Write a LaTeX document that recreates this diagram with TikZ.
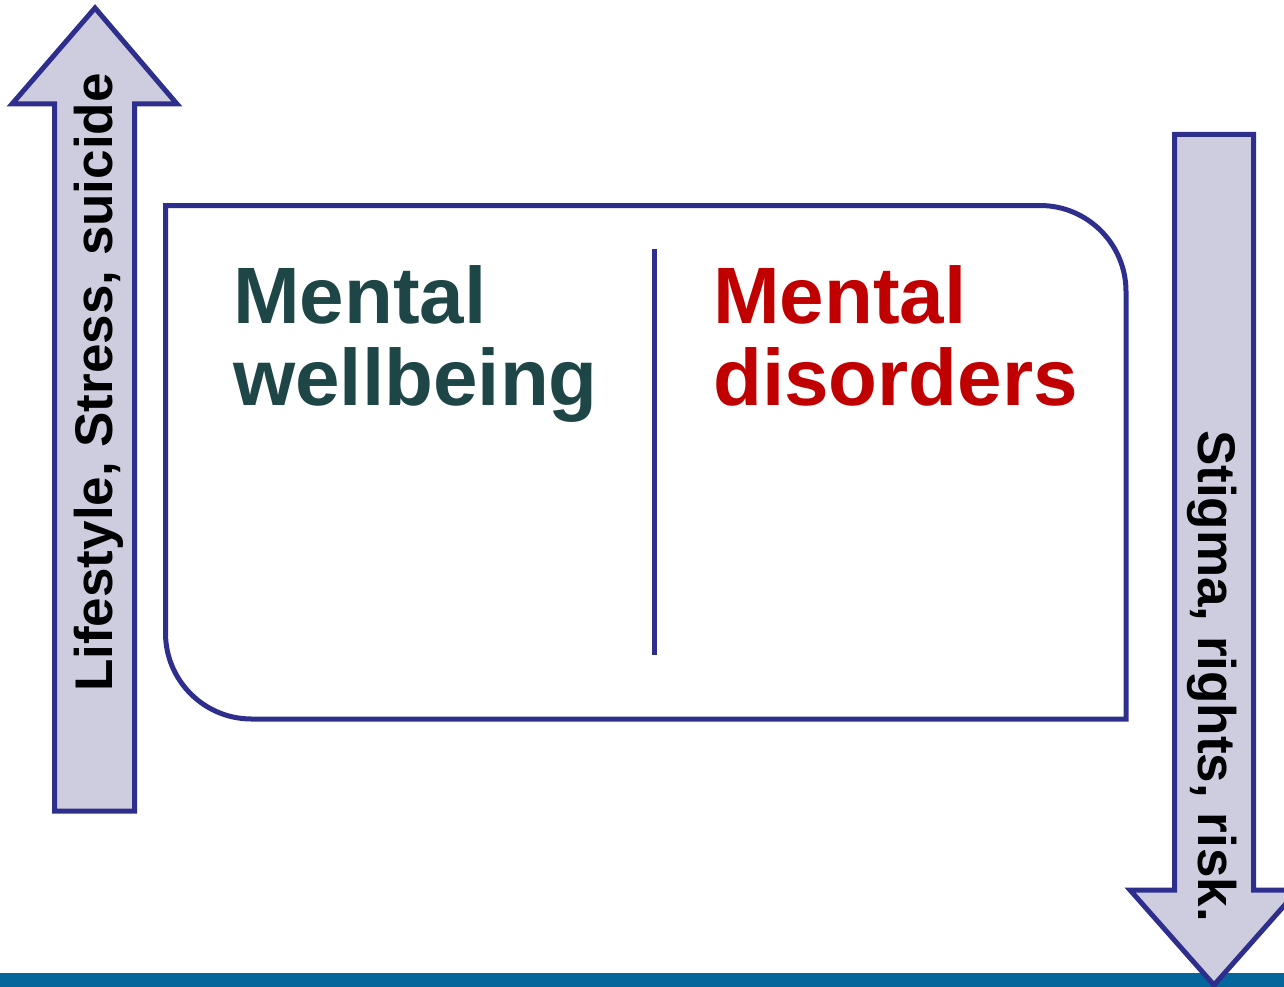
\documentclass[tikz,border=0pt]{standalone}
\usepackage{fontspec}
\setmainfont{Liberation Sans}
\definecolor{outl}{HTML}{2E2F8C}
\definecolor{arrfill}{HTML}{CDCDDF}
\definecolor{barblue}{HTML}{04669A}
\definecolor{teal}{HTML}{1F4647}
\definecolor{dred}{HTML}{C00000}
\begin{document}
\begin{tikzpicture}[x=1pt,y=1pt,
  outline/.style={draw=outl,line width=5pt},
  bigarrow/.style={outline,fill=arrfill,line join=miter},
  bigtext/.style={font=\fontsize{80}{82}\selectfont\bfseries,inner sep=0pt,anchor=base west,align=left},
  sidetext/.style={font=\fontsize{53}{60}\selectfont\bfseries,inner sep=0pt,anchor=base,text=black}]
\useasboundingbox (0,0) rectangle (1284,-987);
\clip (0,0) rectangle (1284,-987);
% bottom bar
\fill[barblue] (0,-973) rectangle (1284,-987);
% left arrow (up)
\draw[bigarrow] (54.5,-811) -- (54.5,-104) -- (12,-104) -- (95,-8) -- (177,-104) -- (134.5,-104) -- (134.5,-811) -- cycle;
\node[sidetext,rotate=90] (lefttxt) at (112,-382.5) {Lifestyle, Stress, suicide};
% right arrow (down)
\draw[bigarrow] (1174.5,-134.5) -- (1253.5,-134.5) -- (1253.5,-890) -- (1298,-890) -- (1214,-985) -- (1130,-890) -- (1174.5,-890) -- cycle;
\node[sidetext,rotate=-90] (righttxt) at (1198,-676) {Stigma, rights, risk.};
% main box
\draw[outline] (165.5,-205.5) -- (1040,-205.5) arc[start angle=90,end angle=0,radius=86] -- (1126,-719) -- (251.5,-719) arc[start angle=270,end angle=180,radius=86] -- cycle;
% divider
\coordinate (dtop) at (654.5,-249);
\coordinate (dbot) at (654.5,-655);
\draw[draw=outl,line width=4.5pt] (dtop) -- (dbot);
% labels
\node[bigtext,text=teal] (wb) at (233,-405) {Mental\\wellbeing};
\node[bigtext,text=dred] (dis) at (713,-405) {Mental\\disorders};
\end{tikzpicture}
\end{document}
